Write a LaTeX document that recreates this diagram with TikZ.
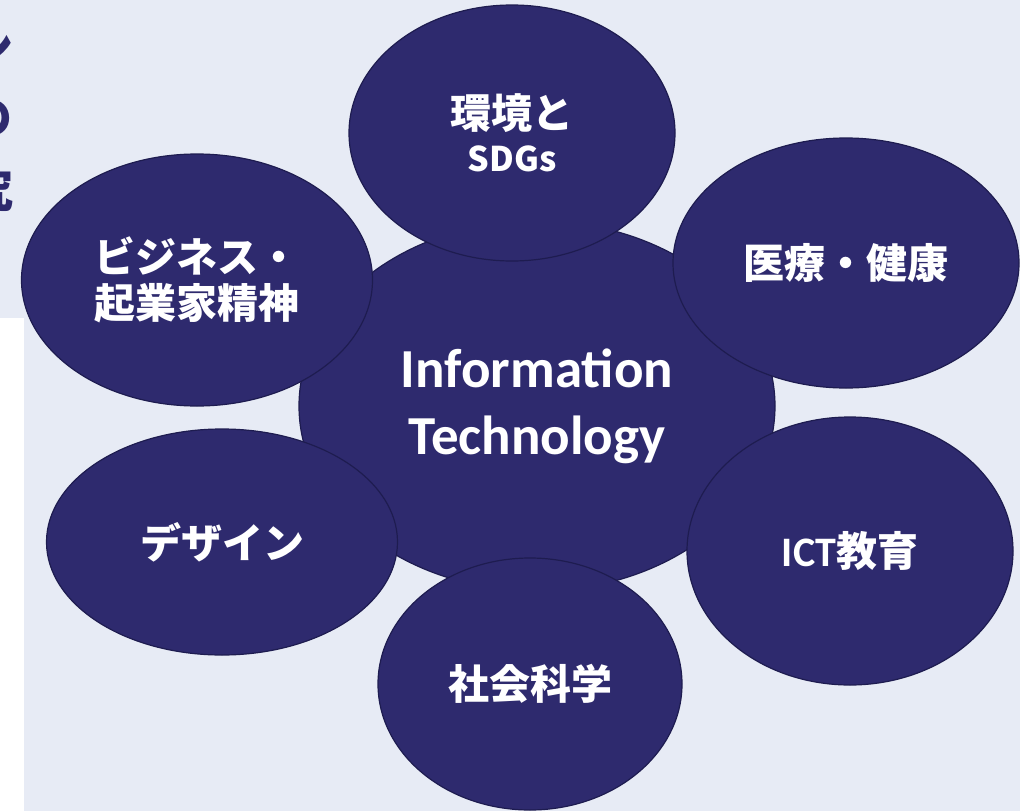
\documentclass[tikz,border=0pt]{standalone}
\usepackage{fontspec}
\newfontfamily\jpfont{Noto Sans CJK JP}
\newfontfamily\latfont{Carlito}
\usetikzlibrary{shapes.geometric}

\definecolor{navy}{RGB}{46,42,110}
\definecolor{navyline}{RGB}{30,28,80}
\definecolor{panel}{RGB}{231,235,245}

\begin{document}
\begin{tikzpicture}[x = 1pt, y = -1pt,
  topic/.style = {draw=navyline, line width=1.2pt, fill=navy, ellipse, inner sep=0pt,
    text=white, align=center, font=\jpfont\bfseries\fontsize{41}{46}\selectfont},
  vert/.style = {text=navy, font=\jpfont\bfseries\fontsize{46}{46}\selectfont, inner sep=0pt}]
\useasboundingbox (0, 0) rectangle (1020, 811);
\clip (0, 0) rectangle (1020, 811);
\fill[panel] (0, 0) rectangle (1020, 811);
\fill[white] (0, 318) rectangle (24, 811);

% vertical title, cut at the left edge
\node[vert] (v1) at (-9, 48) {ン};
\node[vert] (v2) at (-10, 118) {の};
\node[vert] (v3) at (-9, 190) {究};

% centre
\node[topic, minimum width=476pt, minimum height=370pt,
  font=\latfont\bfseries\fontsize{55}{67}\selectfont] (it) at (537, 406) {Information\\Technology};

% around
\node[topic, minimum width=326pt, minimum height=256pt] (env) at (512, 133)
  {環境と\\[-3pt]{\fontsize{34}{34}\selectfont SDGs}};
\node[topic, minimum width=346pt, minimum height=250pt] (med) at (846, 263) {医療・健康};
\node[topic, minimum width=351pt, minimum height=252pt] (biz) at (197, 280) {ビジネス・\\起業家精神};
\node[topic, minimum width=351pt, minimum height=226pt] (des) at (222, 542) {デザイン};
\node[topic, minimum width=326pt, minimum height=268pt] (ict) at (850, 551)
  {{\latfont\fontsize{42}{42}\selectfont ICT}教育};
\node[topic, minimum width=304pt, minimum height=252pt] (soc) at (530, 684) {社会科学};

\end{tikzpicture}
\end{document}
